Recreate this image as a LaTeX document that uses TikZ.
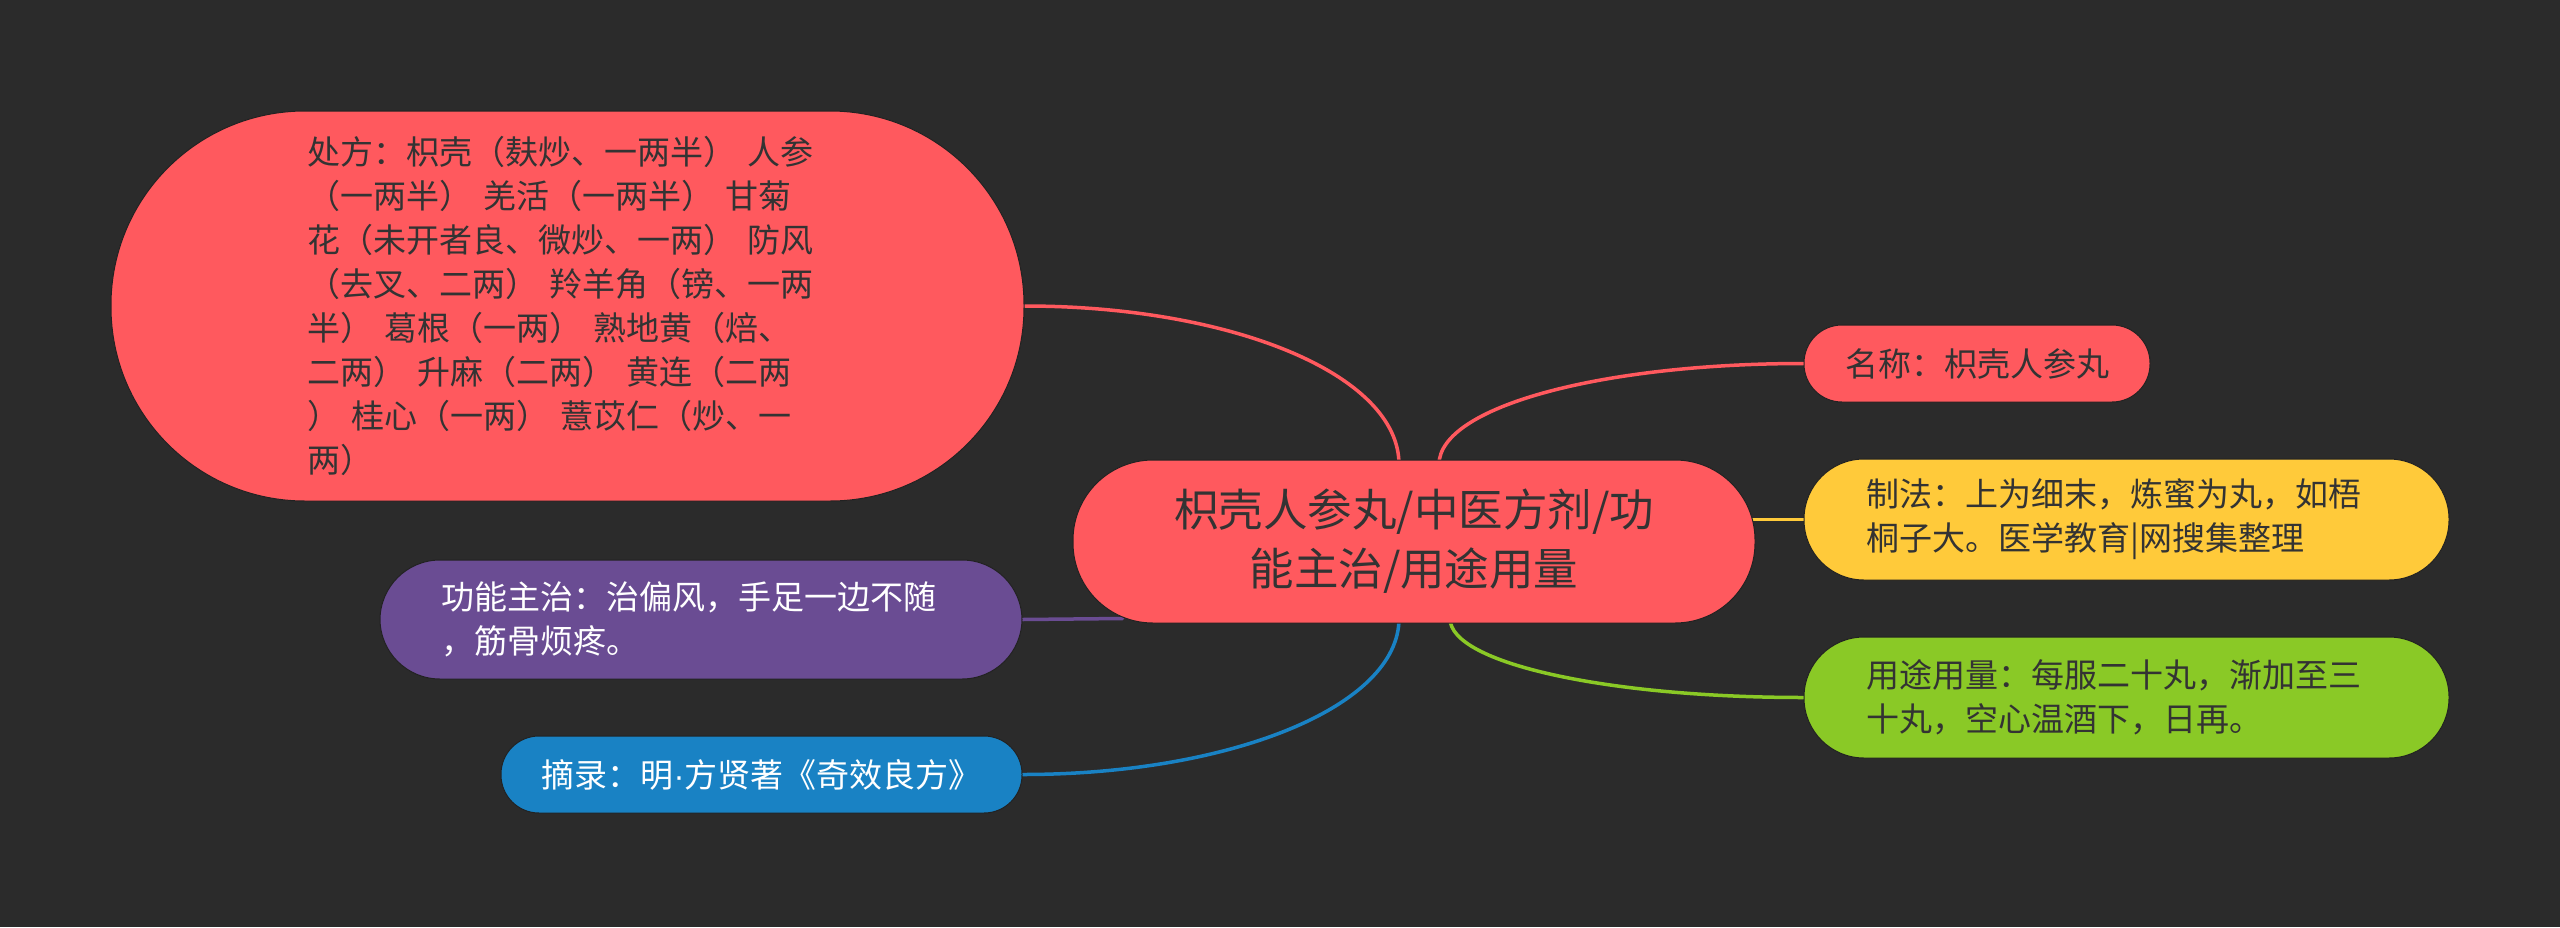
\documentclass[tikz,border=0pt]{standalone}
\usepackage{fontspec}
\setmainfont{Noto Sans CJK SC}
\newfontfamily\latinfont{Liberation Sans}
\usetikzlibrary{calc}
\definecolor{bgc}{HTML}{2B2B2B}
\definecolor{cred}{HTML}{FF595E}
\definecolor{cyellow}{HTML}{FFCA3A}
\definecolor{cgreen}{HTML}{8AC926}
\definecolor{cblue}{HTML}{1982C4}
\definecolor{cpurple}{HTML}{6A4C93}
\definecolor{tdark}{HTML}{333333}
\definecolor{nodeedge}{HTML}{222222}
\pgfdeclarelayer{bglayer}
\pgfdeclarelayer{edgelayer}
\pgfsetlayers{bglayer,edgelayer,main}
\begin{document}
\begin{tikzpicture}[x=1pt,y=-1pt,
  box/.style={rectangle, draw=nodeedge, line width=1pt, inner sep=0pt,
    font=\fontsize{33}{44}\selectfont},
  twoline/.style={box, minimum width=645pt, minimum height=121pt,
    rounded corners=60pt, text width=520pt, align=left},
  oneline/.style={box, minimum height=77pt, rounded corners=38pt, align=center},
  link/.style={line width=3.5pt, line cap=round}]
\useasboundingbox (0,0) rectangle (2560,927);
\begin{pgfonlayer}{bglayer}
\fill[bgc] (0,0) rectangle (2560,927);
\end{pgfonlayer}

\node[box, fill=cred, text=tdark, minimum width=913pt, minimum height=390pt,
  rounded corners=194pt, text width=520pt, align=left] (big) at (567.5,306)
  {处方：枳壳（麸炒、一两半） 人参\\（一两半） 羌活（一两半） 甘菊\\花（未开者良、微炒、一两） 防风\\（去叉、二两） 羚羊角（镑、一两\\半） 葛根（一两） 熟地黄（焙、\\二两） 升麻（二两） 黄连（二两\\） 桂心（一两） 薏苡仁（炒、一\\两）};

\node[box, fill=cred, text=tdark, minimum width=682pt, minimum height=163pt,
  rounded corners=80pt, align=center, font=\fontsize{44.5}{59}\selectfont]
  (central) at (1414,541.5) {枳壳人参丸/中医方剂/功\\能主治/用途用量};

\node[oneline, fill=cred, text=tdark, minimum width=346pt] (name) at (1977,363.5)
  {名称：枳壳人参丸};

\node[twoline, fill=cyellow, text=tdark] (zhifa) at (2126.5,519.5)
  {制法：上为细末，炼蜜为丸，如梧\\桐子大。医学教育|网搜集整理};

\node[twoline, fill=cgreen, text=tdark] (yongtu) at (2126.5,697.5)
  {用途用量：每服二十丸，渐加至三\\十丸，空心温酒下，日再。};

\node[twoline, fill=cpurple, text=white, minimum width=642pt, minimum height=119pt]
  (gongneng) at (701,619.5)
  {功能主治：治偏风，手足一边不随\\，筋骨烦疼。};

\node[oneline, fill=cblue, text=white, minimum width=521pt] (zhailu) at (761.5,774.5)
  {摘录：明{\latinfont ·}方贤著《奇效良方》};

\begin{pgfonlayer}{edgelayer}
\draw[link, cred] ($(central.north)+(-15,5)$) .. controls +(0,-90) and +(207,0) .. (big.east);
\draw[link, cred] ($(central.north)+(25,5)$) .. controls +(0,-58) and +(-201,0) .. (name.west);
\draw[link, cyellow] ($(zhifa.west -| central.east)+(-10,0)$) -- (zhifa.west);
\draw[link, cgreen] ($(central.south)+(36,-5)$) .. controls +(0,45) and +(-195,0) .. (yongtu.west);
\draw[link, cblue] ($(central.south)+(-15,-5)$) .. controls +(0,88) and +(208,0) .. (zhailu.east);
\draw[link, cpurple] ($(central.south west)+(50,-5)$) -- (gongneng.east);
\end{pgfonlayer}
\end{tikzpicture}
\end{document}
